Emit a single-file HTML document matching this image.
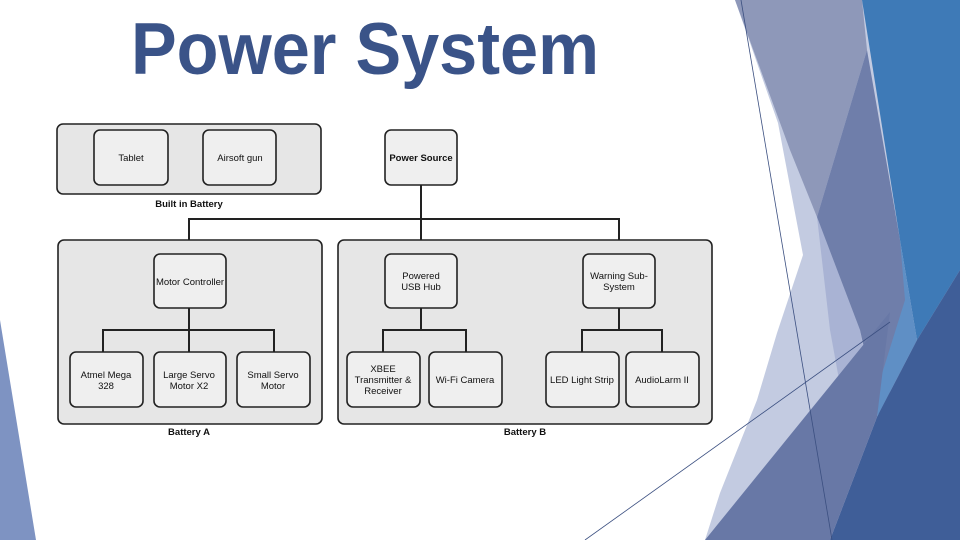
<!DOCTYPE html>
<html><head><meta charset="utf-8"><style>
html,body{margin:0;padding:0;background:#fff;}
svg{display:block;}
.b{fill:#efefef;stroke:#222;stroke-width:1.6;}
.o{fill:#e6e6e6;stroke:#222;stroke-width:1.6;}
.t{font-family:"Liberation Sans",Arial,sans-serif;font-size:9.5px;fill:#111;text-anchor:middle;}
.l{stroke:#222;stroke-width:2;fill:none;}
</style></head><body>
<svg width="960" height="540" viewBox="0 0 960 540" xmlns="http://www.w3.org/2000/svg">
<rect width="960" height="540" fill="#fff"/>
<!-- decoration -->
<polygon points="735,0 960,0 960,540 705,540 720,493 757,400 777,333 803,255 778,123" fill="#c3cbe1"/>
<polygon points="735,0 862,0 867,50 817,217 790,150" fill="#8e98b9"/>
<polygon points="817,217 860,330 877,417 850,440 830,330" fill="#a9b3d4"/>
<polygon points="867,50 900,240 912,330 880,420 860,330 817,217" fill="#6f7eaa"/>
<polygon points="862,0 960,0 960,270 917,340 900,240" fill="#3e7ab7"/>
<polygon points="900,240 917,340 877,417 880,380 905,300" fill="#5f8fc5"/>
<polygon points="960,270 960,540 830,540 877,417 917,340" fill="#3f5e98"/>
<polygon points="705,540 890,312 877,417 830,540" fill="#6878a6"/>
<polygon points="0,320 0,540 36,540" fill="#7e93c2"/>
<line x1="741" y1="0" x2="832" y2="540" stroke="#3b4f80" stroke-width="0.8"/>
<line x1="585" y1="540" x2="890" y2="322" stroke="#3b4f80" stroke-width="0.8"/>
<!-- title -->
<text x="131" y="74" textLength="468" lengthAdjust="spacingAndGlyphs" font-family="'Liberation Sans',sans-serif" font-size="73" font-weight="bold" fill="#3a5388">Power System</text>
<!-- diagram -->
<rect class="o" x="57" y="124" width="264" height="70" rx="6"/>
<rect class="b" x="94" y="130" width="74" height="55" rx="6"/>
<rect class="b" x="203" y="130" width="73" height="55" rx="6"/>
<text class="t" x="131" y="161">Tablet</text>
<text class="t" x="240" y="161">Airsoft gun</text>
<text class="t" x="189" y="207" font-weight="bold">Built in Battery</text>
<rect class="b" x="385" y="130" width="72" height="55" rx="6"/>
<text class="t" x="421" y="161" font-weight="bold">Power Source</text>
<path class="l" d="M421,185 V254 M189,254 V219 H619 V254"/>
<rect class="o" x="58" y="240" width="264" height="184" rx="6"/>
<rect class="o" x="338" y="240" width="374" height="184" rx="6"/>
<text class="t" x="189" y="435" font-weight="bold">Battery A</text>
<text class="t" x="525" y="435" font-weight="bold">Battery B</text>
<path class="l" d="M189,308 V352 M103,352 V330 H274 V352 M421,308 V330 M383,352 V330 H466 V352 M619,308 V330 M582,352 V330 H662 V352"/>
<rect class="b" x="154" y="254" width="72" height="54" rx="6"/>
<text class="t" x="190" y="285">Motor Controller</text>
<rect class="b" x="385" y="254" width="72" height="54" rx="6"/>
<text class="t" x="421" y="279">Powered</text><text class="t" x="421" y="290">USB Hub</text>
<rect class="b" x="583" y="254" width="72" height="54" rx="6"/>
<text class="t" x="619" y="279">Warning Sub-</text><text class="t" x="619" y="290">System</text>
<rect class="b" x="70" y="352" width="73" height="55" rx="6"/>
<text class="t" x="106" y="378">Atmel Mega</text><text class="t" x="106" y="389">328</text>
<rect class="b" x="154" y="352" width="72" height="55" rx="6"/>
<text class="t" x="189" y="378">Large Servo</text><text class="t" x="189" y="389">Motor X2</text>
<rect class="b" x="237" y="352" width="73" height="55" rx="6"/>
<text class="t" x="273" y="378">Small Servo</text><text class="t" x="273" y="389">Motor</text>
<rect class="b" x="347" y="352" width="73" height="55" rx="6"/>
<text class="t" x="383" y="372">XBEE</text><text class="t" x="383" y="383">Transmitter &amp;</text><text class="t" x="383" y="394">Receiver</text>
<rect class="b" x="429" y="352" width="73" height="55" rx="6"/>
<text class="t" x="465" y="383">Wi-Fi Camera</text>
<rect class="b" x="546" y="352" width="73" height="55" rx="6"/>
<text class="t" x="582" y="383">LED Light Strip</text>
<rect class="b" x="626" y="352" width="73" height="55" rx="6"/>
<text class="t" x="662" y="383">AudioLarm II</text>
</svg>
</body></html>
